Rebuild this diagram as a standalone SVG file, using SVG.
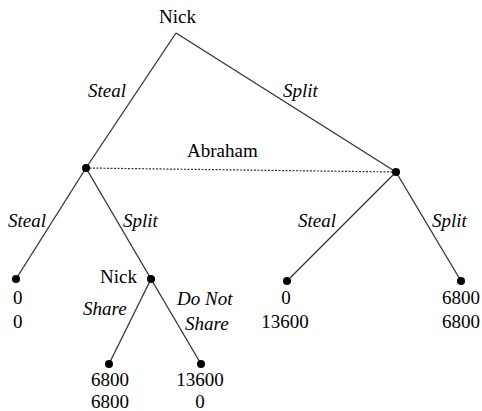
<svg xmlns="http://www.w3.org/2000/svg" width="482" height="411" viewBox="0 0 482 411">
<rect width="482" height="411" fill="#fff"/>
<g id="connectors" stroke="#333" stroke-width="1.3">
<line x1="176" y1="33" x2="86" y2="168"/>
<line x1="176" y1="33" x2="396" y2="172"/>
<line stroke-dasharray="2,1.5" stroke-width="1.2" x1="86" y1="168" x2="396" y2="172"/>
<line x1="86" y1="168" x2="16" y2="279"/>
<line x1="86" y1="168" x2="151" y2="279"/>
<line x1="396" y1="172" x2="287" y2="281"/>
<line x1="396" y1="172" x2="461" y2="281"/>
<line x1="151" y1="279" x2="109" y2="364"/>
<line x1="151" y1="279" x2="201" y2="364"/>
</g>
<g id="edge-labels" fill="#000" stroke="none">
<text font-family="Liberation Serif" font-style="italic" font-size="19" x="88" y="97">Steal</text>
<text font-family="Liberation Serif" font-style="italic" font-size="19" x="283" y="97">Split</text>
<text font-family="Liberation Serif" font-style="italic" font-size="19" x="8" y="227">Steal</text>
<text font-family="Liberation Serif" font-style="italic" font-size="19" x="123" y="227">Split</text>
<text font-family="Liberation Serif" font-style="italic" font-size="19" x="298" y="227">Steal</text>
<text font-family="Liberation Serif" font-style="italic" font-size="19" x="432" y="227">Split</text>
<text font-family="Liberation Serif" font-style="italic" font-size="19" x="83" y="315">Share</text>
<text font-family="Liberation Serif" font-style="italic" font-size="19" x="177" y="305">Do Not</text>
<text font-family="Liberation Serif" font-style="italic" font-size="19" x="185" y="330">Share</text>
</g>
<g id="root"><text font-family="Liberation Serif" font-size="19" x="159" y="23">Nick</text></g>
<g id="abraham-left"><circle cx="86" cy="168" r="4"/></g>
<g id="abraham-right"><circle cx="396" cy="172" r="4"/></g>
<g id="info-set"><text font-family="Liberation Serif" font-size="19" x="187" y="157">Abraham</text></g>
<g id="leaf-ss"><circle cx="16" cy="279" r="4"/><text font-family="Liberation Serif" font-size="19" x="13" y="304">0</text><text font-family="Liberation Serif" font-size="19" x="13" y="328">0</text></g>
<g id="nick2"><circle cx="151" cy="279" r="4"/><text font-family="Liberation Serif" font-size="19" x="100" y="283">Nick</text></g>
<g id="leaf-share"><circle cx="109" cy="364" r="4"/><text text-anchor="middle" font-family="Liberation Serif" font-size="19" x="110" y="386">6800</text><text text-anchor="middle" font-family="Liberation Serif" font-size="19" x="110" y="408">6800</text></g>
<g id="leaf-noshare"><circle cx="201" cy="364" r="4"/><text text-anchor="middle" font-family="Liberation Serif" font-size="19" x="200" y="386">13600</text><text text-anchor="middle" font-family="Liberation Serif" font-size="19" x="200" y="408">0</text></g>
<g id="leaf-split-steal"><circle cx="287" cy="281" r="4"/><text text-anchor="middle" font-family="Liberation Serif" font-size="19" x="286" y="304">0</text><text text-anchor="middle" font-family="Liberation Serif" font-size="19" x="285" y="328">13600</text></g>
<g id="leaf-split-split"><circle cx="461" cy="281" r="4"/><text font-family="Liberation Serif" font-size="19" x="442" y="304">6800</text><text font-family="Liberation Serif" font-size="19" x="442" y="328">6800</text></g>
</svg>
